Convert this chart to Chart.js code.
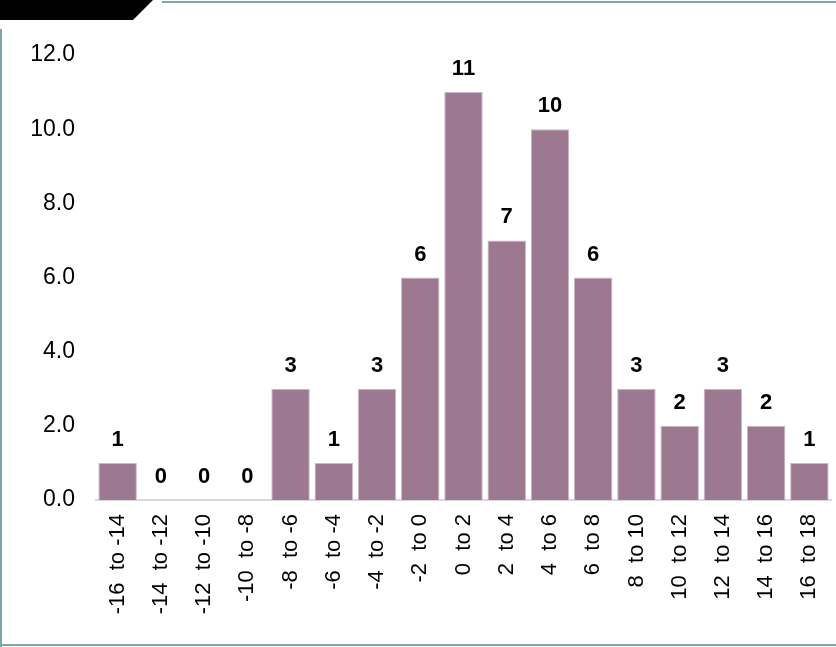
<!DOCTYPE html>
<html lang="en">
<head>
    <meta charset="UTF-8">
    <title>Distribution</title>
    <style>
        body {
            margin: 0;
            padding: 0;
            background: #fff;
            width: 836px;
            height: 647px;
            overflow: hidden;
            position: relative;
            font-family: "Liberation Sans", Arial, sans-serif;
        }
        .tab {
            position: absolute;
            left: 0;
            top: 0;
            width: 153px;
            height: 20px;
            background: #000;
            clip-path: polygon(0 0, 153px 0, 133px 20px, 0 20px);
        }
        .top-line {
            position: absolute;
            left: 162px;
            right: 0;
            top: 1px;
            height: 2px;
            background: #7fa6a8;
        }
        .left-line {
            position: absolute;
            left: 0;
            top: 29px;
            bottom: 0;
            width: 2px;
            background: #7fa6a8;
        }
        .bottom-line {
            position: absolute;
            left: 0;
            right: 0;
            bottom: 1px;
            height: 2px;
            background: #7fa6a8;
        }
        #chartBox {
            position: absolute;
            left: 0;
            top: 0;
            width: 836px;
            height: 647px;
        }
    </style>
</head>
<body>
    <div class="tab"></div>
    <div class="top-line"></div>
    <div class="left-line"></div>
    <div class="bottom-line"></div>
    <div id="chartBox"><canvas id="histChart"></canvas></div>
    <script src="https://cdn.jsdelivr.net/npm/chart.js"></script>
    <script>
        const categories = ['-16  to -14', '-14  to -12', '-12  to -10', '-10  to -8', '-8  to -6', '-6  to -4',
            '-4  to -2', '-2  to 0', '0  to 2', '2  to 4', '4  to 6', '6  to 8', '8  to 10',
            '10  to 12', '12  to 14', '14  to 16', '16  to 18'];
        const counts = [1, 0, 0, 0, 3, 1, 3, 6, 11, 7, 10, 6, 3, 2, 3, 2, 1];
        const yTicks = [0, 2, 4, 6, 8, 10, 12];

        // draws the count above each bar
        const valueLabels = {
            id: 'valueLabels',
            afterDatasetsDraw(chart) {
                const ctx = chart.ctx;
                const meta = chart.getDatasetMeta(0);
                ctx.save();
                ctx.font = 'bold 22px "Liberation Sans", Arial, sans-serif';
                ctx.fillStyle = '#000';
                ctx.textAlign = 'center';
                ctx.textBaseline = 'middle';
                meta.data.forEach((bar, i) => {
                    ctx.fillText(String(counts[i]), bar.x, bar.y - 23);
                });
                ctx.restore();
            }
        };

        const ctx = document.getElementById('histChart').getContext('2d');
        new Chart(ctx, {
            type: 'bar',
            data: {
                labels: categories,
                datasets: [{
                    data: counts,
                    backgroundColor: '#9c7891',
                    borderColor: '#cdb8c7',
                    borderWidth: 1,
                    barPercentage: 0.89,
                    categoryPercentage: 1.0
                }]
            },
            options: {
                responsive: true,
                maintainAspectRatio: false,
                animation: false,
                layout: {
                    padding: { left: 0, right: 5, top: 55, bottom: 0 }
                },
                plugins: {
                    legend: { display: false },
                    tooltip: { enabled: false }
                },
                scales: {
                    x: {
                        grid: { display: false, drawTicks: false },
                        border: { display: true, color: '#d9d9d9', width: 2 },
                        ticks: {
                            color: '#000',
                            font: { family: '"Liberation Sans", Arial, sans-serif', size: 22 },
                            minRotation: 90,
                            maxRotation: 90,
                            autoSkip: false,
                            padding: 14
                        },
                        afterFit(scale) {
                            scale.height = 147;
                            scale.paddingLeft = 0;
                            scale.paddingRight = 0;
                        }
                    },
                    y: {
                        min: 0,
                        max: 12,
                        grid: { display: false, drawTicks: false },
                        border: { display: false },
                        afterBuildTicks(scale) {
                            scale.ticks = yTicks.map(v => ({ value: v }));
                        },
                        ticks: {
                            color: '#000',
                            font: { family: '"Liberation Sans", Arial, sans-serif', size: 23 },
                            padding: 21,
                            callback: v => Number(v).toFixed(1)
                        },
                        afterFit(scale) { scale.width = 96; }
                    }
                }
            },
            plugins: [valueLabels]
        });
    </script>
</body>
</html>
